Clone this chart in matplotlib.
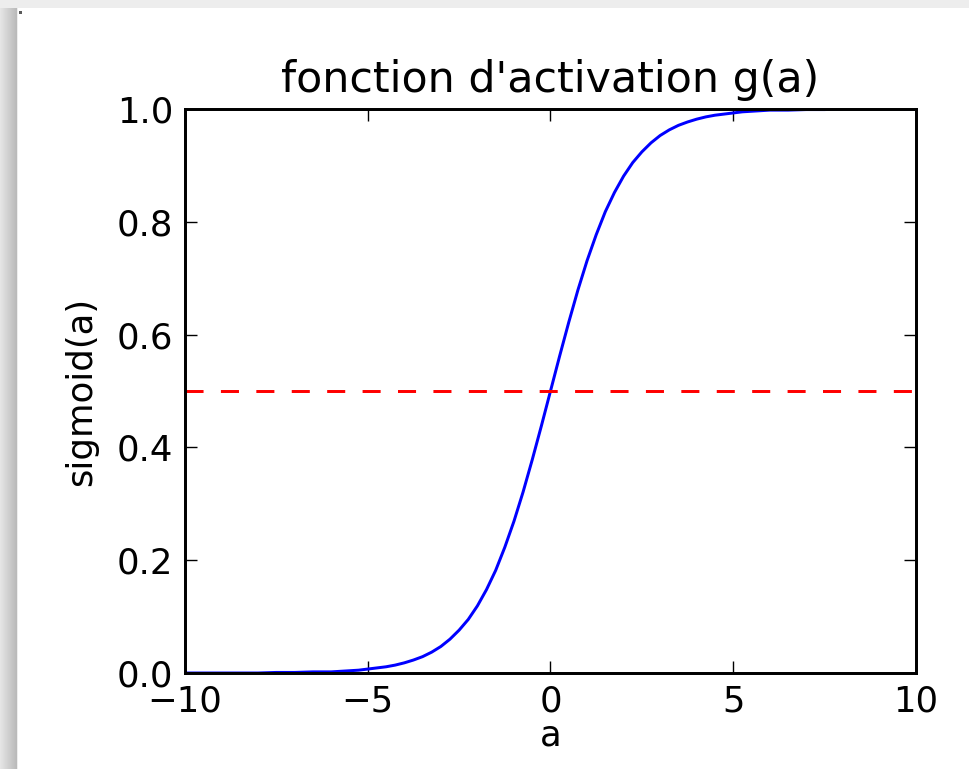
import numpy as np
import matplotlib
matplotlib.use("Agg")
import matplotlib.pyplot as plt

# values
a_vals = [-10, -9.5, -9, -8.5, -8, -7.5, -7, -6.5, -6, -5.75, -5.5, -5.25, -5,
          -4.75, -4.5, -4.25, -4, -3.75, -3.5, -3.25, -3, -2.75, -2.5, -2.25,
          -2, -1.75, -1.5, -1.25, -1, -0.75, -0.5, -0.25, 0, 0.25, 0.5, 0.75,
          1, 1.25, 1.5, 1.75, 2, 2.25, 2.5, 2.75, 3, 3.25, 3.5, 3.75, 4,
          4.25, 4.5, 4.75, 5, 5.25, 5.5, 5.75, 6, 6.5, 7, 7.5, 8, 8.5, 9, 9.5, 10]
g_vals = [0.000, 0.000, 0.000, 0.000, 0.000, 0.001, 0.001, 0.002, 0.002, 0.003, 0.004, 0.005, 0.007,
          0.009, 0.011, 0.014, 0.018, 0.023, 0.029, 0.037, 0.047, 0.060, 0.076, 0.095,
          0.119, 0.148, 0.182, 0.223, 0.269, 0.321, 0.378, 0.438, 0.500, 0.562, 0.622, 0.679,
          0.731, 0.777, 0.818, 0.852, 0.881, 0.905, 0.924, 0.940, 0.953, 0.963, 0.971, 0.977, 0.982,
          0.986, 0.989, 0.991, 0.993, 0.995, 0.996, 0.997, 0.998, 0.998, 0.999, 0.999, 1.000, 1.000, 1.000, 1.000, 1.000]
threshold = 0.5

x_ticks = [-10, -5, 0, 5, 10]
y_ticks = [0.0, 0.2, 0.4, 0.6, 0.8, 1.0]

plt.rcParams['font.family'] = ['DejaVu Sans']
plt.rcParams['lines.scale_dashes'] = False

fig = plt.figure(figsize=(9.7, 7.69), dpi=100)

# screenshot shadow around the window (top strip + left gradient)
bg = fig.add_axes([0, 0, 1, 1], zorder=-5)
bg.axis('off')
W, H = 970, 769
img = np.ones((H, W, 3))
img[:8, :, :] = 0.93
left = np.linspace(0.90, 0.73, 17)
img[8:, :17, :] = left[None, :, None]
img[8:, 17, :] = 0.93
img[11:14, 19:22, :] = 0.35  # little dot in the corner
bg.imshow(img, extent=(0, W, H, 0), aspect='auto', interpolation='bilinear')
bg.set_xlim(0, W)
bg.set_ylim(H, 0)

ax = fig.add_axes([185 / 970, 1 - 673 / 769, (916 - 185) / 970, (673 - 109) / 769])

ax.plot(a_vals, g_vals, color='b', lw=2.14)
ax.axhline(threshold, color='r', lw=2.14, ls=(0, (13, 12.5)))

ax.set_xlim(-10, 10)
ax.set_ylim(0, 1)
ax.set_xticks(x_ticks)
ax.set_yticks(y_ticks)
ax.set_yticklabels(['%.1f' % v for v in y_ticks])
ax.tick_params(axis='both', direction='in', length=8.6, width=1.0, pad=8.6,
               labelsize=25.6, top=True, right=True, color='k')
for s in ax.spines.values():
    s.set_linewidth(2.14)

ax.set_title("fonction d'activation g(a)", fontsize=30.8, pad=12)
ax.set_xlabel("a", fontsize=25.6, labelpad=0)
ax.set_ylabel("sigmoid(a)", fontsize=25.6, labelpad=13)

plt.savefig('out.png', dpi=100)
